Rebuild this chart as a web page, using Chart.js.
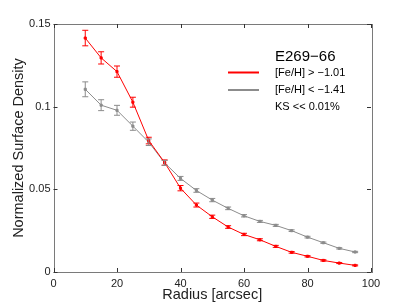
<!DOCTYPE html>
<html><head><meta charset="utf-8">
<script src="https://cdn.jsdelivr.net/npm/chart.js@4/dist/chart.umd.min.js"></script>
<style>html,body{margin:0;padding:0;background:#fff}#w{width:409px;height:307px}</style>
</head><body><div id="w"><canvas id="c" width="409" height="307"></canvas></div>
<script>
const radius = [10,15,20,25,30,35,40,45,50,55,60,65,70,75,80,85,90,95];
const metalRich = [0.1415,0.1295,0.1212,0.1027,0.0795,0.0662,0.0507,0.0405,0.0334,0.0272,0.0227,0.0195,0.0155,0.0119,0.0095,0.0070,0.0054,0.0040];
const metalRichErr = [0.0047,0.0037,0.0034,0.0030,0.0020,0.0016,0.0016,0.0012,0.0010,0.0008,0.0007,0.0006,0.0006,0.0005,0.0004,0.0004,0.0003,0.0003];
const metalPoor = [0.1105,0.1009,0.0978,0.0882,0.0785,0.0660,0.0566,0.0493,0.0435,0.0385,0.0340,0.0306,0.0282,0.0250,0.0211,0.0177,0.0143,0.0121];
const metalPoorErr = [0.0045,0.0033,0.0030,0.0025,0.0020,0.0015,0.0012,0.0011,0.0010,0.0008,0.0007,0.0006,0.0006,0.0005,0.0005,0.0004,0.0004,0.0004];
const xTicks = [0,20,40,60,80,100];
const yTicks = [0,0.05,0.1,0.15];
const legendTitle = "E269\u221266";
const legendLabels = ["[Fe/H] > \u22121.01","[Fe/H] < \u22121.41"];
const ksText = "KS << 0.01%";
const RED = "#ff0000", GRAY = "#8c8c8c";
const FONT = "'Liberation Sans', Arial, sans-serif";

const errPlugin = {
  id: 'err',
  afterDatasetsDraw(chart) {
    const ctx = chart.ctx, xs = chart.scales.x, ys = chart.scales.y;
    chart.data.datasets.forEach(ds => {
      ctx.save();
      ctx.strokeStyle = ds.borderColor; ctx.lineWidth = 1;
      ds.data.forEach((p, i) => {
        const e = ds.errors[i];
        const x = xs.getPixelForValue(p.x);
        const y1 = ys.getPixelForValue(p.y - e), y2 = ys.getPixelForValue(p.y + e);
        ctx.beginPath();
        ctx.moveTo(x, y1); ctx.lineTo(x, y2);
        ctx.moveTo(x - 3, y1); ctx.lineTo(x + 3, y1);
        ctx.moveTo(x - 3, y2); ctx.lineTo(x + 3, y2);
        ctx.stroke();
      });
      ctx.restore();
    });
  }
};
const framePlugin = {
  id: 'frame',
  afterDraw(chart) {
    const ctx = chart.ctx, a = chart.chartArea, xs = chart.scales.x, ys = chart.scales.y;
    ctx.save();
    ctx.strokeStyle = '#7a7a7a'; ctx.lineWidth = 1;
    ctx.strokeRect(Math.round(a.left) + 0.5, Math.round(a.top) + 0.5, Math.round(a.right - a.left), Math.round(a.bottom - a.top));
    ctx.strokeStyle = '#333';
    ctx.beginPath();
    xTicks.forEach(v => {
      const x = Math.round(xs.getPixelForValue(v)) + 0.5;
      ctx.moveTo(x, a.bottom); ctx.lineTo(x, a.bottom - 4);
      ctx.moveTo(x, a.top); ctx.lineTo(x, a.top + 4);
    });
    yTicks.forEach(v => {
      const y = Math.round(ys.getPixelForValue(v)) + 0.5;
      ctx.moveTo(a.left, y); ctx.lineTo(a.left + 4, y);
      ctx.moveTo(a.right, y); ctx.lineTo(a.right - 4, y);
    });
    ctx.stroke();
    // legend
    ctx.fillStyle = '#000';
    ctx.textBaseline = 'middle'; ctx.textAlign = 'left';
    ctx.font = "15px " + FONT;
    ctx.fillText(legendTitle, 275, 57);
    ctx.font = "11px " + FONT;
    const ly = [72.5, 90];
    const cols = [RED, GRAY];
    ly.forEach((y, i) => {
      ctx.strokeStyle = cols[i]; ctx.lineWidth = 2;
      ctx.beginPath(); ctx.moveTo(228, y); ctx.lineTo(259, y); ctx.stroke();
      ctx.fillStyle = '#000';
      ctx.fillText(legendLabels[i], 275, y);
    });
    ctx.fillText(ksText, 275, 107);
    ctx.restore();
  }
};

new Chart(document.getElementById('c'), {
  type: 'line',
  data: {
    datasets: [
      { data: radius.map((r, i) => ({x: r, y: metalRich[i]})), errors: metalRichErr,
        borderColor: RED, backgroundColor: RED, borderWidth: 1, pointRadius: 1.5, pointStyle: 'rect', tension: 0 },
      { data: radius.map((r, i) => ({x: r, y: metalPoor[i]})), errors: metalPoorErr,
        borderColor: GRAY, backgroundColor: GRAY, borderWidth: 1, pointRadius: 1.5, pointStyle: 'rect', tension: 0 }
    ]
  },
  options: {
    responsive: false, animation: false,
    layout: { padding: { top: 24, right: 38, left: 0, bottom: 0 } },
    plugins: { legend: { display: false }, tooltip: { enabled: false } },
    scales: {
      x: {
        type: 'linear', min: 0, max: 100,
        afterBuildTicks(s) { s.ticks = xTicks.map(v => ({value: v})); },
        afterFit(s) { s.height = 35; },
        grid: { display: false, drawTicks: false },
        border: { display: false },
        ticks: { padding: 5, color: '#222', font: { family: FONT, size: 11 }, maxRotation: 0,
                 callback: v => String(v) },
        title: { display: true, text: 'Radius [arcsec]', color: '#222', font: { family: FONT, size: 14.5 }, padding: { top: 0, bottom: 3 } }
      },
      y: {
        type: 'linear', min: 0, max: 0.15,
        afterBuildTicks(s) { s.ticks = yTicks.map(v => ({value: v})); },
        afterFit(s) { s.width = 53.5; },
        grid: { display: false, drawTicks: false },
        border: { display: false },
        ticks: { padding: 3, color: '#222', font: { family: FONT, size: 11 },
                 callback: v => String(v) },
        title: { display: true, text: 'Normalized Surface Density', color: '#222', font: { family: FONT, size: 14.5 }, padding: { top: 10, bottom: 0 } }
      }
    }
  },
  plugins: [errPlugin, framePlugin]
});
</script>
</body></html>
